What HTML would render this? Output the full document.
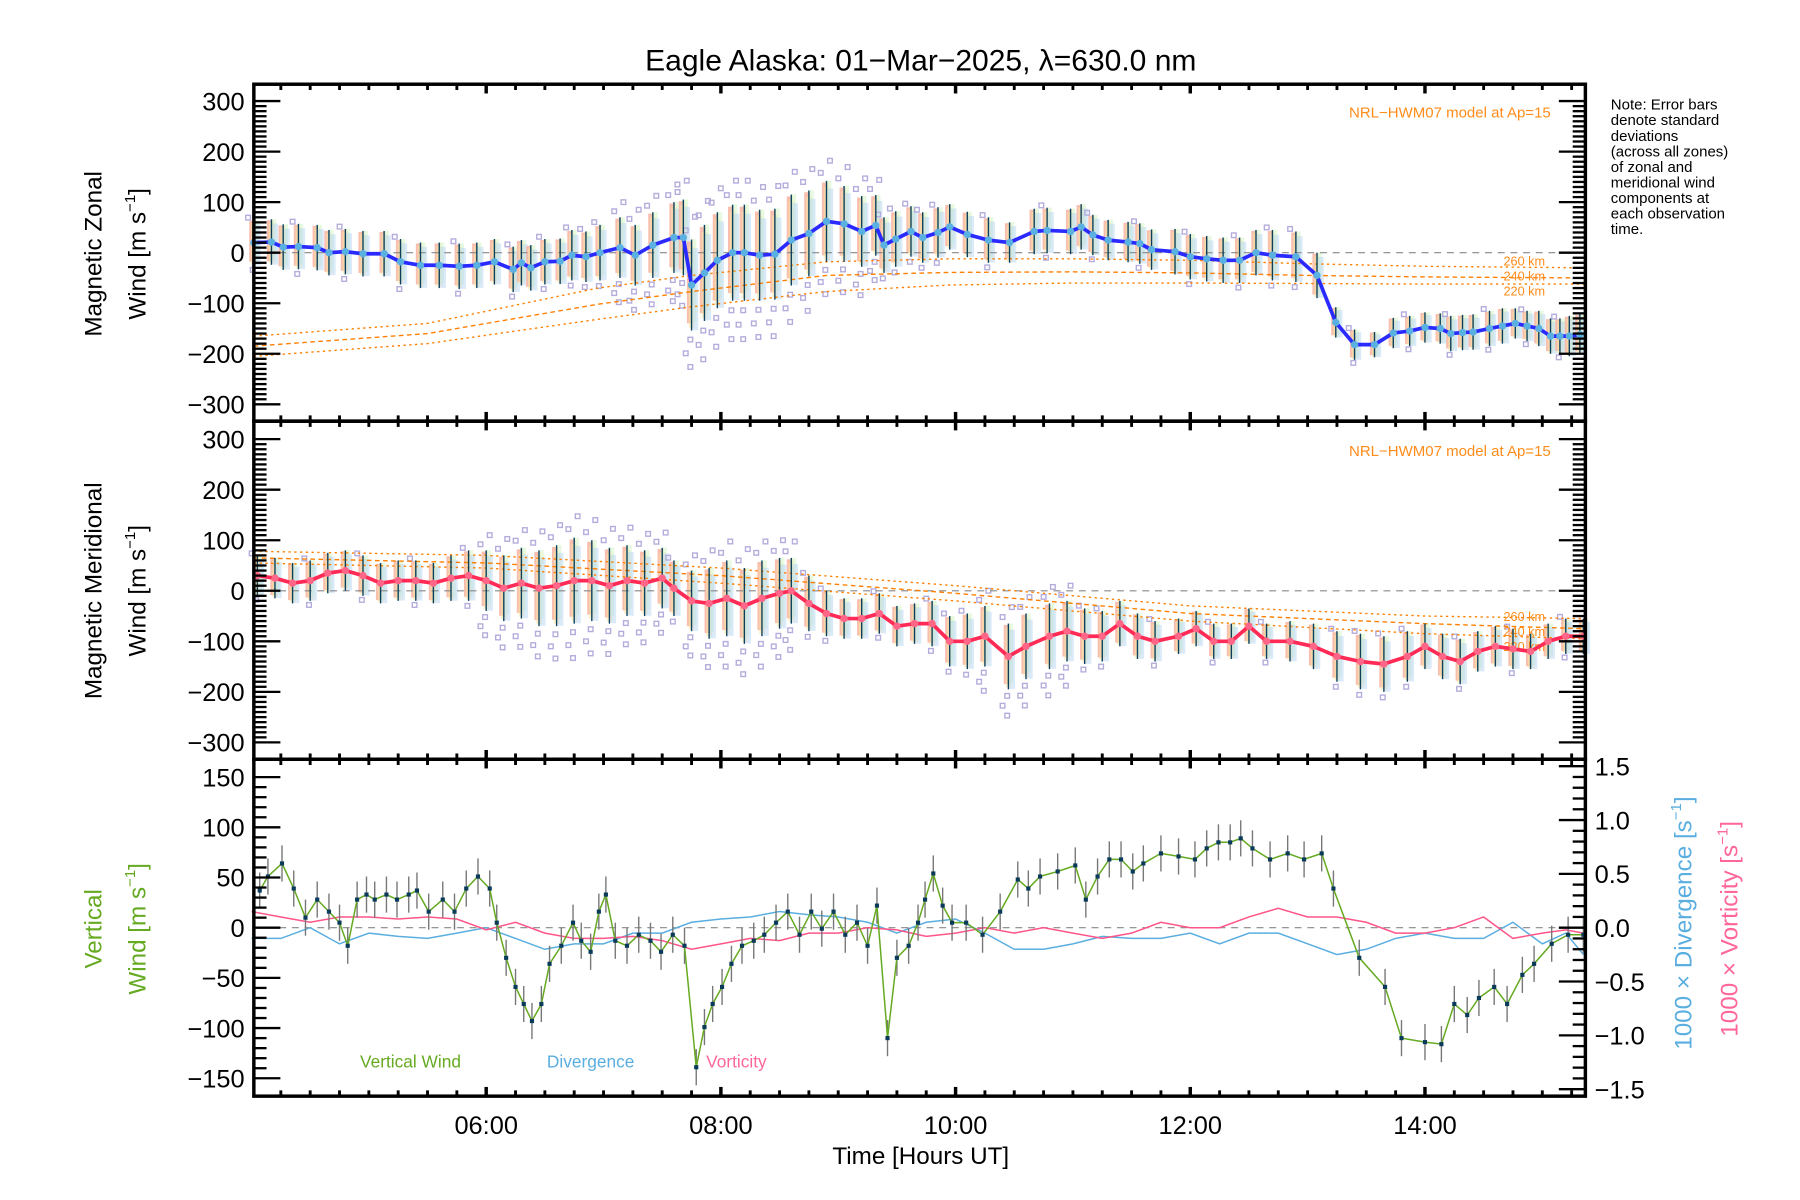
<!DOCTYPE html>
<html><head><meta charset="utf-8">
<style>
html,body{margin:0;padding:0;background:#fff;}
svg{display:block;font-family:"Liberation Sans",sans-serif;}
</style></head>
<body>
<svg id="chart" width="1800" height="1200" viewBox="0 0 1560 1040" xmlns="http://www.w3.org/2000/svg">
<rect x="0" y="0" width="1560" height="1040" fill="#fff"/>
<text x="798" y="61" font-size="26" text-anchor="middle">Eagle Alaska: 01−Mar−2025, λ=630.0 nm</text>
<g id="note" font-size="13">
<text x="1396" y="95">Note: Error bars</text>
<text x="1396" y="108.5">denote standard</text>
<text x="1396" y="122">deviations</text>
<text x="1396" y="135.5">(across all zones)</text>
<text x="1396" y="149">of zonal and</text>
<text x="1396" y="162.5">meridional wind</text>
<text x="1396" y="176">components at</text>
<text x="1396" y="189.5">each observation</text>
<text x="1396" y="203">time.</text>
</g>
<text transform="translate(88,220) rotate(-90)" font-size="21" text-anchor="middle">Magnetic Zonal</text>
<text transform="translate(126,220) rotate(-90)" font-size="21" text-anchor="middle">Wind [m s<tspan font-size="13" dy="-9">−1</tspan><tspan dy="9">]</tspan></text>
<text transform="translate(88,512) rotate(-90)" font-size="21" text-anchor="middle">Magnetic Meridional</text>
<text transform="translate(126,512) rotate(-90)" font-size="21" text-anchor="middle">Wind [m s<tspan font-size="13" dy="-9">−1</tspan><tspan dy="9">]</tspan></text>
<text transform="translate(88,805) rotate(-90)" font-size="21" text-anchor="middle" fill="#66aa22">Vertical</text>
<text transform="translate(126,805) rotate(-90)" font-size="21" text-anchor="middle" fill="#66aa22">Wind [m s<tspan font-size="13" dy="-9">−1</tspan><tspan dy="9">]</tspan></text>
<text transform="translate(1466,800) rotate(-90)" font-size="21" text-anchor="middle" fill="#5aaee0">1000 × Divergence [s<tspan font-size="13" dy="-9">−1</tspan><tspan dy="9">]</tspan></text>
<text transform="translate(1506,805) rotate(-90)" font-size="21" text-anchor="middle" fill="#ff6699">1000 × Vorticity [s<tspan font-size="13" dy="-9">−1</tspan><tspan dy="9">]</tspan></text>
<text x="798" y="1009" font-size="21" text-anchor="middle">Time [Hours UT]</text>
<text x="312" y="925" font-size="15" fill="#66aa22">Vertical Wind</text>
<text x="474" y="925" font-size="15" fill="#5aaee0">Divergence</text>
<text x="612" y="925" font-size="15" fill="#ff6699">Vorticity</text>
<text x="1344" y="102" font-size="13" fill="#ff8c1a" text-anchor="end">NRL−HWM07 model at Ap=15</text>
<text x="1344" y="395" font-size="13" fill="#ff8c1a" text-anchor="end">NRL−HWM07 model at Ap=15</text>
<g id="plots"></g>
</svg>
<script>
// ---- data ----
const zonalT=[4.02,4.17,4.27,4.4,4.56,4.66,4.8,4.95,5.13,5.27,5.44,5.6,5.77,5.92,6.07,6.23,6.3,6.38,6.5,6.63,6.73,6.85,6.97,7.14,7.27,7.42,7.6,7.68,7.75,7.86,7.97,8.1,8.2,8.33,8.46,8.6,8.75,8.9,9.05,9.2,9.32,9.39,9.49,9.62,9.72,9.85,9.95,10.1,10.28,10.46,10.67,10.78,10.98,11.07,11.17,11.3,11.47,11.57,11.67,11.87,12.0,12.14,12.28,12.42,12.56,12.7,12.9,13.08,13.24,13.4,13.57,13.73,13.87,14.0,14.13,14.22,14.32,14.41,14.55,14.66,14.77,14.87,14.97,15.07,15.15,15.23,15.32];
const zonalV=[20,21,11,12,10,0,2,-2,-2,-18,-25,-25,-27,-25,-18,-33,-20,-30,-18,-17,-5,-8,0,10,-5,15,30,30,-64,-40,-15,0,0,-5,-3,25,38,62,57,42,54,15,27,42,30,40,51,36,25,20,42,44,42,51,35,25,21,18,6,2,-8,-12,-15,-15,0,-5,-8,-45,-138,-182,-182,-159,-155,-148,-150,-160,-158,-157,-150,-145,-140,-145,-150,-165,-165,-165,-162];
const zonalErr=[45,45,45,45,45,45,45,45,45,45,45,45,45,45,45,45,45,45,45,45,50,50,55,60,60,65,70,75,90,95,95,95,95,90,90,90,85,80,75,70,60,55,55,50,50,50,45,45,45,40,45,45,45,45,40,40,40,40,40,45,45,45,45,45,45,50,50,45,30,30,25,30,30,30,30,35,35,35,35,35,30,30,35,35,35,40,40];
const merT=[4.05,4.2,4.35,4.5,4.65,4.8,4.95,5.1,5.25,5.4,5.55,5.7,5.85,6.0,6.15,6.3,6.45,6.6,6.75,6.9,7.05,7.2,7.35,7.5,7.6,7.75,7.9,8.05,8.2,8.35,8.5,8.6,8.75,8.9,9.05,9.2,9.35,9.5,9.65,9.8,9.95,10.1,10.25,10.45,10.6,10.8,10.95,11.1,11.25,11.4,11.55,11.7,11.9,12.05,12.2,12.35,12.5,12.65,12.85,13.05,13.25,13.45,13.65,13.85,14.0,14.15,14.3,14.45,14.6,14.75,14.9,15.05,15.2,15.35];
const merV=[30,25,15,20,35,40,30,15,20,20,15,25,30,20,5,15,5,10,20,20,10,20,15,25,5,-20,-25,-15,-30,-15,-5,0,-25,-45,-55,-55,-45,-70,-65,-65,-100,-100,-90,-130,-110,-90,-80,-90,-90,-65,-90,-100,-90,-75,-100,-100,-70,-100,-100,-110,-130,-140,-145,-130,-110,-130,-140,-120,-110,-115,-120,-100,-90,-90];
const merErr=[40,40,40,40,40,40,40,40,40,40,40,45,50,60,65,70,75,80,85,80,75,70,65,60,55,60,70,75,75,75,70,65,55,45,40,40,40,40,40,45,50,55,60,65,65,65,60,55,50,45,45,40,35,35,35,35,35,35,40,45,50,55,55,50,45,45,45,40,40,40,35,35,35,35];
const modelT=[4.02,5.5,6.95,7.75,8.9,9.95,11,12,13,14,15.37];
const zon260=[-165,-140,-70,-45,-18,-12,-12,-15,-22,-27,-30];
const zon240=[-185,-160,-102,-77,-45,-39,-38,-40,-45,-48,-50];
const zon220=[-205,-180,-132,-107,-77,-64,-60,-60,-61,-62,-62];
const merModelT=[4.02,6,8,10,12,14,15.37];
const mer260=[78,70,45,10,-30,-50,-55];
const mer240=[65,55,30,-5,-45,-65,-75];
const mer220=[55,45,15,-20,-60,-85,-95];
const vertT=[4.07,4.14,4.26,4.36,4.46,4.56,4.66,4.75,4.82,4.90,4.98,5.05,5.15,5.24,5.34,5.41,5.51,5.63,5.73,5.83,5.93,6.03,6.09,6.17,6.25,6.32,6.39,6.47,6.54,6.64,6.74,6.81,6.89,6.96,7.02,7.10,7.20,7.30,7.40,7.49,7.59,7.69,7.79,7.86,7.93,8.01,8.09,8.18,8.28,8.37,8.47,8.57,8.67,8.77,8.86,8.96,9.06,9.16,9.25,9.33,9.42,9.50,9.60,9.68,9.74,9.81,9.89,9.97,10.09,10.23,10.38,10.53,10.62,10.72,10.87,11.02,11.11,11.21,11.31,11.41,11.51,11.60,11.75,11.90,12.04,12.14,12.24,12.34,12.43,12.53,12.68,12.83,12.97,13.12,13.22,13.44,13.66,13.80,14.00,14.14,14.25,14.36,14.46,14.59,14.70,14.83,14.93,15.08,15.22,15.35];
const vertV=[37,51,64,39,10,28,16,5,-18,28,33,28,33,28,33,37,16,28,16,39,51,39,5,-30,-59,-76,-93,-76,-36,-18,5,-13,-24,16,33,-13,-18,-7,-13,-24,-7,-18,-139,-99,-76,-59,-36,-18,-13,-7,5,16,-7,16,-1,16,-7,5,-18,22,-110,-30,-18,5,28,54,22,5,5,-7,16,48,39,51,56,62,28,51,68,68,56,64,74,71,68,79,85,85,89,79,68,74,68,74,39,-30,-59,-110,-114,-116,-76,-87,-70,-59,-76,-47,-36,-16,-7,-7];
const vertErr=18;
const curlT=[4.0,4.25,4.5,4.75,5.0,5.25,5.5,5.75,6.0,6.25,6.5,6.75,7.0,7.25,7.5,7.75,8.0,8.25,8.5,8.75,9.0,9.25,9.5,9.75,10.0,10.25,10.5,10.75,11.0,11.25,11.5,11.75,12.0,12.25,12.5,12.75,13.0,13.25,13.5,13.75,14.0,14.25,14.5,14.75,15.0,15.2,15.35];
const divV=[-0.1,-0.1,0.0,-0.15,-0.05,-0.08,-0.1,-0.05,0.0,-0.1,-0.2,-0.15,-0.15,-0.05,-0.05,0.05,0.08,0.1,0.15,0.12,0.1,0.05,-0.05,0.05,0.08,-0.05,-0.2,-0.2,-0.15,-0.08,-0.1,-0.1,-0.05,-0.15,-0.05,-0.05,-0.15,-0.25,-0.2,-0.1,-0.05,-0.1,-0.1,0.05,-0.15,-0.05,-0.25];
const vorV=[0.15,0.1,0.05,0.1,0.1,0.08,0.1,0.08,-0.02,0.05,-0.05,-0.1,-0.1,-0.08,-0.12,-0.2,-0.15,-0.1,-0.12,-0.05,-0.05,0.0,-0.02,-0.08,-0.05,0.0,-0.05,0.0,-0.05,-0.1,-0.05,0.05,0.0,0.0,0.1,0.18,0.1,0.1,0.05,-0.05,-0.05,0.0,0.1,-0.1,-0.05,-0.02,-0.05];
const xTickLabels=["06:00","08:00","10:00","12:00","14:00"];
const xTickHours=[6,8,10,12,14];
const windTicks=[-300,-200,-100,0,100,200,300];
const vertTicks=[-150,-100,-50,0,50,100,150];
const rightTicks=[-1.5,-1.0,-0.5,0.0,0.5,1.0,1.5];

// ---- layout ----
const NS="http://www.w3.org/2000/svg";
const root=document.getElementById('plots');
const L=220,R=1374,T0=4.02,HPX=101.7;
const xs=t=>L+(t-T0)*HPX;
const P1={top:73,bot:365,y0:219,k:0.438};
const P2={top:365,bot:658,y0:512,k:0.438};
const P3={top:658,bot:950,y0:804,k:0.87};
const RK=93.3;
function el(tag,attrs,parent){const e=document.createElementNS(NS,tag);for(const k in attrs)e.setAttribute(k,attrs[k]);(parent||root).appendChild(e);return e;}
const yOf=(P,v)=>P.y0-v*P.k;
function clipY(P,y){return Math.max(P.top+1,Math.min(P.bot-1,y));}
function pathFrom(T,V,f){let d='';for(let i=0;i<Math.min(T.length,V.length);i++){d+=(i?'L':'M')+xs(T[i]).toFixed(1)+' '+f(V[i]).toFixed(1);}return d;}

function windPanel(P,T,V,E,name,lineCol,dotCol,mT,m1,m2,m3,labY){
  const g=el('g',{});
  
  
  const n=Math.min(T.length,V.length,E.length);
  for(let i=0;i<n;i++){
    const x=xs(T[i]);
    const cols=['#f8b4a0','#f8e6a8','#d4f4c4','#bcd8f4'];
    const offs=[-0.2,0.15,-0.35,0.3];
    for(let c=0;c<4;c++){
      const hi=clipY(P,yOf(P,V[i]+E[i]*(0.9-offs[c]*0.3))),lo=clipY(P,yOf(P,V[i]-E[i]*(0.9+offs[c]*0.3)));
      const r=el('rect',{x:(x-4+c*1.6).toFixed(1),y:hi.toFixed(1),width:5,height:(lo-hi).toFixed(1),fill:cols[c],opacity:c==0?0.85:0.55},g);
      
      
    }
  }
  for(let i=0;i<n;i++){
    if(E[i]<50 && i%3!==0) continue;
    const x=xs(T[i]);
    const ks=E[i]>=60?[1.2,-1.2,1.5,-1.5,-1.8]:[1.1,-1.2];
    ks.forEach((k,j)=>{
      const y=yOf(P,V[i]+k*E[i]);
      if(y<P.top+3||y>P.bot-3) return;
      const s=el('rect',{x:(x-3+(j%3-1)*4).toFixed(1),y:(y-2).toFixed(1),width:4,height:4,fill:'none',stroke:'#b4acdc','stroke-width':1.2},g);
      
      
    });
  }
  const z=el('line',{x1:L,x2:R,y1:P.y0,y2:P.y0,stroke:'#888','stroke-width':1,'stroke-dasharray':'6 5'},g);
  
  
  [[m1,'2 3','260'],[m2,'4 3','240'],[m3,'2 3','220']].forEach(([arr,da,km],j)=>{
    const p=el('path',{d:pathFrom(mT,arr,v=>yOf(P,v)),fill:'none',stroke:'#ff7f00','stroke-width':1.2,'stroke-dasharray':da},g);
    
    
    const t=el('text',{x:1303,y:labY+j*13,'font-size':11,fill:'#ff8c1a'},g);
    t.textContent=km+' km';
    
    
  });
  for(let i=0;i<n;i++){
    const x=xs(T[i]);
    const b=el('line',{x1:x,x2:x,y1:clipY(P,yOf(P,V[i]+E[i])),y2:clipY(P,yOf(P,V[i]-E[i])),stroke:'#0b3f5c','stroke-width':1.2},g);
    
    
  }
  const ln=el('path',{d:pathFrom(T,V,v=>yOf(P,v)),fill:'none',stroke:lineCol,'stroke-width':3.2,'stroke-linejoin':'round'},g);
  
  
  for(let i=0;i<n;i++){
    const c=el('circle',{cx:xs(T[i]),cy:yOf(P,V[i]),r:3.2,fill:dotCol},g);
    
    
  }
}
windPanel(P1,zonalT,zonalV,zonalErr,'zonal','#2a2aff','#5ab0e0',modelT,zon260,zon240,zon220,230);
windPanel(P2,merT,merV,merErr,'meridional','#ff2a55','#ff6688',merModelT,mer260,mer240,mer220,538);

(function(){
  const P=P3;
  const g=el('g',{});
  
  
  const z=el('line',{x1:L,x2:R,y1:P.y0,y2:P.y0,stroke:'#888','stroke-width':1,'stroke-dasharray':'6 5'},g);
  
  
  const dv=el('path',{d:pathFrom(curlT,divV,v=>P.y0-v*RK),fill:'none',stroke:'#5aaee0','stroke-width':1.3},g);
  
  
  const vo=el('path',{d:pathFrom(curlT,vorV,v=>P.y0-v*RK),fill:'none',stroke:'#ff5588','stroke-width':1.3},g);
  
  
  const n=Math.min(vertT.length,vertV.length);
  for(let i=0;i<n;i++){
    const x=xs(vertT[i]);
    const b=el('line',{x1:x,x2:x,y1:yOf(P,vertV[i]+vertErr),y2:yOf(P,vertV[i]-vertErr),stroke:'#777','stroke-width':1.2},g);
    
    
  }
  const ln=el('path',{d:pathFrom(vertT,vertV,v=>yOf(P,v)),fill:'none',stroke:'#66aa22','stroke-width':1.3},g);
  
  
  for(let i=0;i<n;i++){
    const r=el('rect',{x:xs(vertT[i])-1.8,y:yOf(P,vertV[i])-1.8,width:3.6,height:3.6,fill:'#0a3a5a'},g);
    
    
  }
})();

function axes(P,ticks,step,name,right){
  const g=el('g',{});
  
  
  el('rect',{x:L,y:P.top,width:R-L,height:P.bot-P.top,fill:'none',stroke:'#000','stroke-width':3},g);
  for(let m=T0*4;m<=15.4*4;m++){
    const t=Math.ceil(m)/4; if(t<T0||t>15.37) continue;
    const x=xs(t), major=Math.abs(t%2)<1e-6;
    const len=major?8:5;
    el('line',{x1:x,x2:x,y1:P.bot,y2:P.bot-len,stroke:'#000','stroke-width':major?3:2.5},g);
    el('line',{x1:x,x2:x,y1:P.top,y2:P.top+len,stroke:'#000','stroke-width':major?3:2.5},g);
  }
  const lo=ticks[0],hi=ticks[ticks.length-1];
  for(let v=lo;v<=hi+1e-6;v+=step){
    const y=yOf(P,v); if(y<P.top||y>P.bot) continue;
    const major=ticks.some(t=>Math.abs(t-v)<1e-6);
    el('line',{x1:L,x2:L+(major?23:11),y1:y,y2:y,stroke:'#000','stroke-width':2},g);
    if(!right) el('line',{x1:R,x2:R-(major?23:11),y1:y,y2:y,stroke:'#000','stroke-width':2},g);
  }
  ticks.forEach(t=>{
    const tx=el('text',{x:212,y:yOf(P,t)+8,'font-size':22,'text-anchor':'end'},g);
    tx.textContent=(t<0?'−':'')+Math.abs(t);
    
    
  });
}
axes(P1,windTicks,10,'zonal',false);
axes(P2,windTicks,10,'meridional',false);
axes(P3,vertTicks,10,'vertical',true);
(function(){
  const g=el('g',{});
  
  
  for(let i=-15;i<=15;i++){
    const v=i/10,y=P3.y0-v*RK; if(y<P3.top||y>P3.bot) continue;
    const major=i%5===0;
    el('line',{x1:R,x2:R-(major?23:11),y1:y,y2:y,stroke:'#000','stroke-width':2},g);
  }
  rightTicks.forEach(t=>{
    const tx=el('text',{x:1382,y:P3.y0-t*RK+8,'font-size':22},g);
    tx.textContent=(t<0?'−':'')+Math.abs(t).toFixed(1);
    
    
  });
})();
xTickHours.forEach((h,i)=>{
  const tx=el('text',{x:xs(h),y:983,'font-size':22,'text-anchor':'middle'});
  tx.textContent=xTickLabels[i];
  
  
});
</script>
</body></html>
